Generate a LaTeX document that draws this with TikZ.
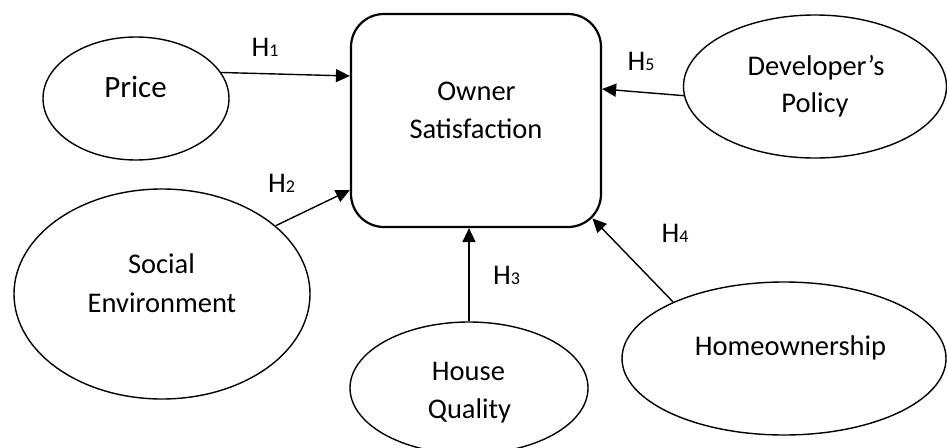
\documentclass[tikz,border=0pt]{standalone}
\usepackage{fontspec}
\setmainfont{Carlito}
\usetikzlibrary{shapes.geometric,arrows.meta,calc}
\newcommand{\hyp}[1]{H{\fontsize{18}{18}\selectfont #1}}
\begin{document}
\begin{tikzpicture}[x=1pt,y=-1pt,
  el/.style={draw, line width=1.4pt, ellipse, inner sep=0pt},
  txt/.style={anchor=base, font=\fontsize{28.5}{34}\selectfont, inner sep=0pt},
  bigtxt/.style={anchor=base, font=\fontsize{31}{36}\selectfont, inner sep=0pt},
  hl/.style={anchor=base, font=\fontsize{28.5}{34}\selectfont, inner sep=0pt},
  arr/.style={line width=1.4pt, -{Triangle[length=14pt,width=13pt]}},
  mainbox/.style={draw, line width=2.2pt, rounded corners=33pt, inner sep=0pt}]
\useasboundingbox (0,0) rectangle (947,447);
\begin{scope}
\clip (0,0) rectangle (947,447);
% central box
\node[mainbox, minimum width=250pt, minimum height=213pt] (box) at (476,120.5) {};
% ellipses
\node[el, minimum width=186pt, minimum height=123pt] (price) at (136,98.5) {};
\node[el, minimum width=263pt, minimum height=143pt] (dev) at (815,86.5) {};
\node[el, minimum width=296pt, minimum height=210pt] (social) at (162,294) {};
\node[el, minimum width=238pt, minimum height=132pt] (house) at (469,388) {};
\node[el, minimum width=324pt, minimum height=153pt] (home) at (784,358.5) {};
\end{scope}
% texts
\node[txt] (boxt1) at (476.5,100) {Owner};
\node[txt] (boxt2) at (476,138) {Satisfaction};
\node[bigtxt] (pricet) at (135.5,97) {Price};
\node[txt] (devt1) at (816,75) {Developer’s};
\node[txt] (devt2) at (815,112.5) {Policy};
\node[txt] (socialt1) at (161.5,273) {Social};
\node[txt] (socialt2) at (162,312) {Environment};
\node[txt] (houset1) at (468.5,380) {House};
\node[txt] (houset2) at (469.5,418) {Quality};
\node[txt] (homet) at (790.5,355.7) {Homeownership};
% hypothesis labels
\node[hl] (h1) at (265,56) {\hyp{1}};
\node[hl] (h2) at (281.5,192.7) {\hyp{2}};
\node[hl] (h3) at (506.5,284) {\hyp{3}};
\node[hl] (h4) at (675,242) {\hyp{4}};
\node[hl] (h5) at (641,70) {\hyp{5}};
% arrows
\draw[arr] (price.17.5) -- ([yshift=44.5pt]box.west);
\draw[arr] (social.31) -- ([yshift=-69.5pt]box.west);
\draw[arr] (house.north) -- (house.north |- box.south);
\draw[arr] (home.153.4) -- ([xshift=-9.7pt,yshift=9.7pt]box.south east);
\draw[arr] (dev.184) -- ([yshift=31.5pt]box.east);
\end{tikzpicture}
\end{document}
